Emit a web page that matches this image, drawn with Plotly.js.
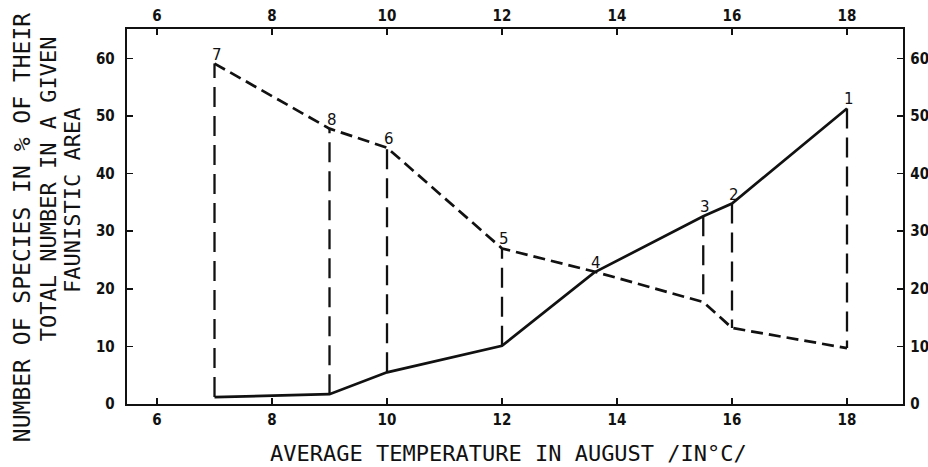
<!DOCTYPE html>
<html>
<head>
<meta charset="utf-8">
<script src="https://cdn.plot.ly/plotly-3.0.1.min.js"></script>
<style>html,body{margin:0;padding:0;background:#fff;}#chart{width:928px;height:467px;}</style>
</head>
<body>
<div id="chart"></div>
<script>
// Stations (faunistic areas) and average August temperature
const stationLabels = ['7', '8', '6', '5', '4', '3', '2', '1'];
const temperature   = [7, 9, 10, 12, 13.6, 15.5, 16, 18];
// solid line (rising) and dashed line (falling), % of species
const solidValues   = [1.2, 1.7, 5.5, 10.1, 22.8, 32.6, 34.8, 51.3];
const dashedValues  = [59.1, 47.8, 44.5, 27.0, 23.0, 17.7, 13.2, 9.7];
// stations that have a vertical connector
const connectorStations = ['7', '8', '6', '5', '3', '2', '1'];
const xTicks = [6, 8, 10, 12, 14, 16, 18];
const yTicks = [0, 10, 20, 30, 40, 50, 60];

const ink = '#111111';
const cx = [], cy = [];
stationLabels.forEach((s, i) => {
  if (connectorStations.includes(s)) {
    cx.push(temperature[i], temperature[i], null);
    cy.push(solidValues[i], dashedValues[i], null);
  }
});

const traces = [
  {x: cx, y: cy, mode: 'lines', line: {color: ink, width: 2.3, dash: '20px,9px'}, hoverinfo: 'skip', showlegend: false},
  {x: temperature, y: dashedValues, mode: 'lines', line: {color: ink, width: 2.7, dash: '12px,6px'}, showlegend: false},
  {x: temperature, y: solidValues, mode: 'lines', line: {color: ink, width: 2.7}, showlegend: false},
  {x: temperature, y: solidValues, xaxis: 'x2', yaxis: 'y2', mode: 'lines', opacity: 0, line: {width: 0}, hoverinfo: 'skip', showlegend: false}
];

const tickFont = {family: 'DejaVu Sans Condensed', size: 15, color: ink, weight: 'bold'};
const xr = [5.478, 18.974], yr = [0, 65.1];
const axBase = {showgrid: false, zeroline: false, showline: true, linecolor: ink, linewidth: 2.3,
  ticks: 'inside', ticklen: 6, tickwidth: 1.6, tickcolor: ink, tickfont: tickFont};

const annotations = stationLabels.map((s, i) => ({
  x: temperature[i], y: Math.max(solidValues[i], dashedValues[i]), text: s, showarrow: false,
  xanchor: 'center', yanchor: 'middle', xshift: 2, yshift: 9,
  font: {family: 'DejaVu Sans', size: 15, color: ink}
}));
const titleFont = (sz) => ({family: 'DejaVu Sans Mono', size: sz, color: ink});
annotations.push(
  {xref: 'paper', yref: 'paper', x: 0.491, y: -0.1307, text: 'AVERAGE TEMPERATURE IN AUGUST /IN°C/', showarrow: false, xanchor: 'center', yanchor: 'middle', font: titleFont(22)},
  {xref: 'paper', yref: 'paper', x: -0.1353, y: 0.469, text: 'NUMBER OF SPECIES IN % OF THEIR', textangle: -90, showarrow: false, xanchor: 'center', yanchor: 'middle', font: titleFont(23)},
  {xref: 'paper', yref: 'paper', x: -0.1018, y: 0.573, text: 'TOTAL NUMBER IN A GIVEN', textangle: -90, showarrow: false, xanchor: 'center', yanchor: 'middle', font: titleFont(22)},
  {xref: 'paper', yref: 'paper', x: -0.0696, y: 0.544, text: 'FAUNISTIC AREA', textangle: -90, showarrow: false, xanchor: 'center', yanchor: 'middle', font: titleFont(22)}
);

const layout = {
  width: 928, height: 467,
  margin: {l: 127, r: 25, t: 29, b: 63, pad: 0},
  paper_bgcolor: '#fff', plot_bgcolor: '#fff',
  xaxis: Object.assign({}, axBase, {range: xr, tickvals: xTicks, ticktext: xTicks.map(String), ticklabelstandoff: 1}),
  xaxis2: Object.assign({}, axBase, {range: xr, tickvals: xTicks, ticktext: xTicks.map(String), overlaying: 'x', side: 'top', anchor: 'y2', ticklabelstandoff: 0}),
  yaxis: Object.assign({}, axBase, {range: yr, tickvals: yTicks, ticktext: yTicks.map(String), ticklabelstandoff: 7}),
  yaxis2: Object.assign({}, axBase, {range: yr, tickvals: yTicks, ticktext: yTicks.map(String), overlaying: 'y', side: 'right', anchor: 'x2', ticklabelstandoff: 2}),
  annotations: annotations,
  showlegend: false
};

Plotly.newPlot('chart', traces, layout, {displayModeBar: false, staticPlot: true});
</script>
</body>
</html>
